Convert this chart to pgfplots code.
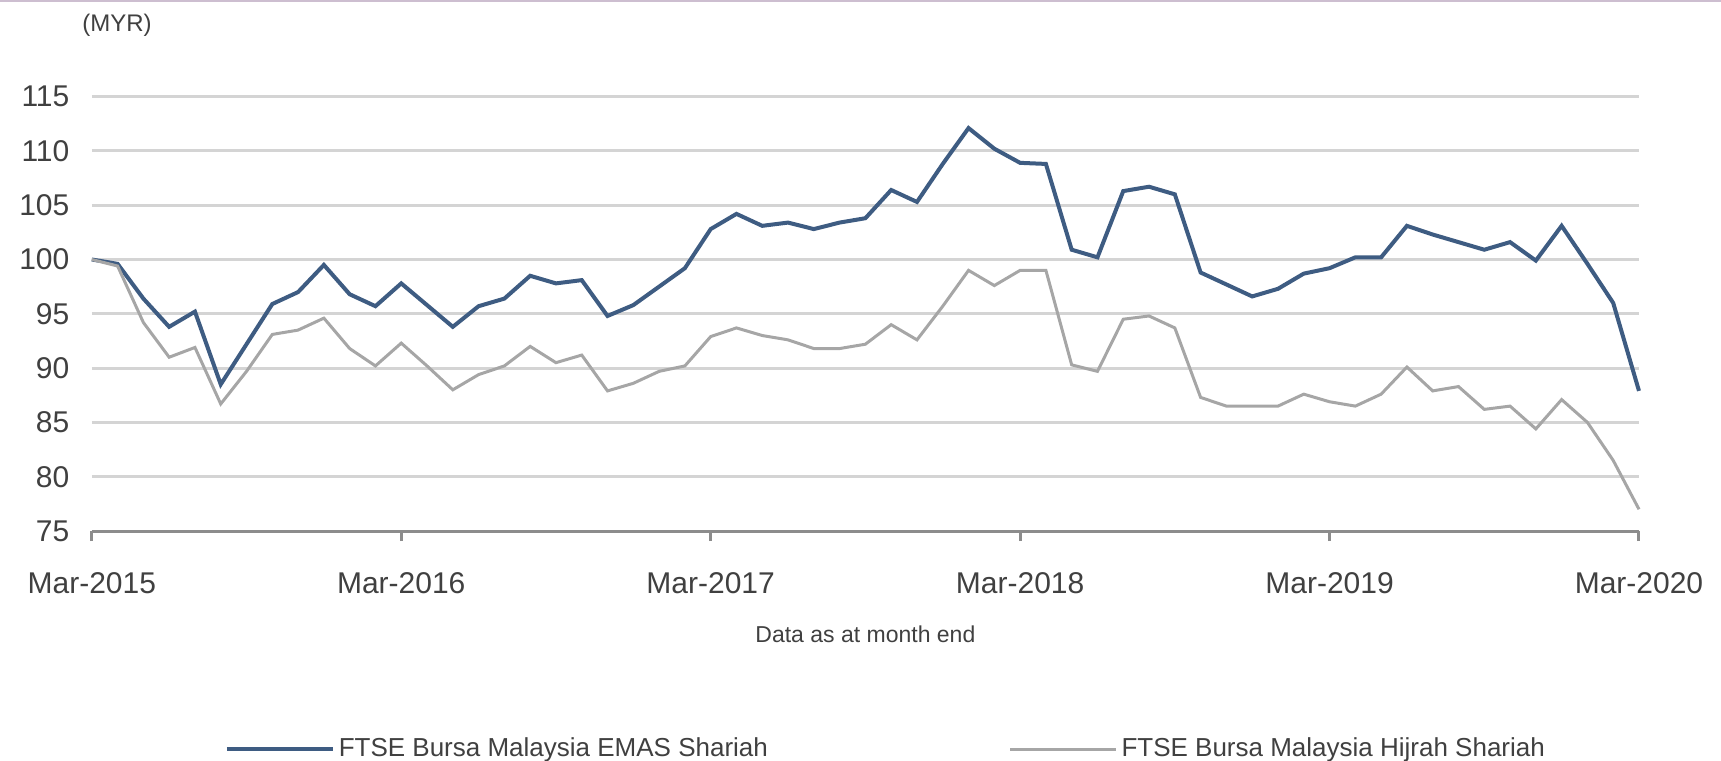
\documentclass[border=0pt]{standalone}
\usepackage{fontspec}
\setmainfont{Liberation Sans}
\usepackage{pgfplots}
\pgfplotsset{compat=1.18}
\usepackage{pgfplotstable}
\definecolor{emas}{RGB}{62,92,130}
\definecolor{hijrah}{RGB}{166,166,166}
\definecolor{gridc}{RGB}{212,212,212}
\definecolor{axisc}{RGB}{140,140,140}
\definecolor{txt}{RGB}{64,64,64}
\definecolor{topc}{RGB}{205,190,208}

\pgfplotstableread{
m emas hijrah
0 100.0 100.0
1 99.6 99.4
2 96.4 94.2
3 93.8 91.0
4 95.2 91.9
5 88.5 86.7
6 92.2 89.7
7 95.9 93.1
8 97.0 93.5
9 99.5 94.6
10 96.8 91.8
11 95.7 90.2
12 97.8 92.3
13 95.8 90.2
14 93.8 88.0
15 95.7 89.4
16 96.4 90.2
17 98.5 92.0
18 97.8 90.5
19 98.1 91.2
20 94.8 87.9
21 95.8 88.6
22 97.5 89.7
23 99.2 90.2
24 102.8 92.9
25 104.2 93.7
26 103.1 93.0
27 103.4 92.6
28 102.8 91.8
29 103.4 91.8
30 103.8 92.2
31 106.4 94.0
32 105.3 92.6
33 108.8 95.7
34 112.1 99.0
35 110.2 97.6
36 108.9 99.0
37 108.8 99.0
38 100.9 90.3
39 100.2 89.7
40 106.3 94.5
41 106.7 94.8
42 106.0 93.7
43 98.8 87.3
44 97.7 86.5
45 96.6 86.5
46 97.3 86.5
47 98.7 87.6
48 99.2 86.9
49 100.2 86.5
50 100.2 87.6
51 103.1 90.1
52 102.3 87.9
53 101.6 88.3
54 100.9 86.2
55 101.6 86.5
56 99.9 84.4
57 103.1 87.1
58 99.6 85.0
59 96.0 81.5
60 87.9 77.0
}\data

\begin{document}
\begin{tikzpicture}
\useasboundingbox (0,0) rectangle (860.5pt,380.5pt);
\draw[topc, line width=1pt] (0,380pt) -- (860.5pt,380pt);
\begin{axis}[
  at={(45.9pt,115pt)}, anchor=south west,
  scale only axis, width=773.6pt, height=217.2pt,
  xmin=0, xmax=60, ymin=75, ymax=115,
  axis x line*=bottom, axis y line*=left,
  y axis line style={draw=none},
  x axis line style={axisc, line width=1.5pt},
  xtick={0,12,24,36,48,60},
  xticklabels={Mar-2015,Mar-2016,Mar-2017,Mar-2018,Mar-2019,Mar-2020},
  ytick={75,80,...,115},
  tick align=outside,
  major tick length=5pt,
  xtick style={axisc, line width=1.5pt},
  ytick style={draw=none},
  ymajorgrids,
  grid style={gridc, line width=1.5pt},
  /pgf/number format/assume math mode=true,
  tick label style={font=\fontsize{15}{18}\selectfont, text=txt},
  xticklabel style={yshift=-12pt},
  yticklabel style={xshift=-2.7pt},
  xlabel={Data as at month end},
  xlabel style={at={(axis description cs:0.5,-0.237)}, anchor=center, font=\fontsize{11.5}{14}\selectfont, text=txt},
  legend columns=2,
  legend style={at={(rel axis cs:0.0818,-0.502)}, anchor=west, draw=none, fill=none,
    font=\fontsize{13}{15}\selectfont, text=txt,
    /tikz/every even column/.append style={column sep=118.3pt}},
  legend image code/.code={\draw[#1] (0pt,0pt) -- (53pt,0pt);},
  clip=false,
]
\addplot[emas, line width=2pt] table[x=m,y=emas]{\data};
\addlegendentry{FTSE Bursa Malaysia EMAS Shariah}
\addplot[hijrah, line width=1.5pt] table[x=m,y=hijrah]{\data};
\addlegendentry{FTSE Bursa Malaysia Hijrah Shariah}
\end{axis}
\node[font=\fontsize{12}{14}\selectfont, text=txt] at (58.5pt,368pt) {(MYR)};
\end{tikzpicture}
\end{document}
